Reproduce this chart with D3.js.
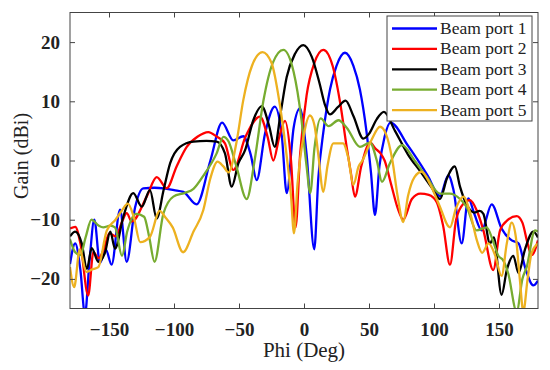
<!DOCTYPE html>
<html><head><meta charset="utf-8">
<script src="https://cdn.jsdelivr.net/npm/d3@7"></script>
<style>body{margin:0;background:#fff} svg{display:block}</style>
</head><body>
<svg id="c" width="550" height="370"></svg>
<script>
const seriesNames = ["Beam port 1","Beam port 2","Beam port 3","Beam port 4","Beam port 5"];
const xTicks = [-150,-100,-50,0,50,100,150];
const yTicks = [-20,-10,0,10,20];

const port1 = [[-180,-17.5],[-176,-14],[-172,-18.5],[-168.5,-26],[-165,-17],[-161.3,-10],[-157,-17.3],[-152.5,-15],[-148,-17.6],[-141.5,-8.3],[-136.4,-17.1],[-130,-8],[-123.6,-4.7],[-115,-4.6],[-108,-4.7],[-100,-5],[-92.8,-5.3],[-82.6,-7.4],[-72,0],[-63,6.4],[-54.4,3.4],[-46.7,4.1],[-41,1],[-36.4,-3.3],[-30,4.5],[-22.5,9.1],[-17,4],[-13.3,-5.5],[-8,5.5],[-3.1,8.8],[2,1],[7.9,-15],[11,-3],[15,5],[20,12],[25,16],[31.5,18.2],[38,16],[43,12],[48,5],[51.5,-2],[54.6,-9.2],[58,-1],[62,4],[66.5,6.4],[80,2.5],[95,-2.5],[104.6,-6],[111,-2.5],[115,-5],[121.3,-14],[126.4,-6.4],[131,-9],[136.7,-11.8],[144.4,-7.4],[152,-11.5],[159.8,-13.5],[165,-14],[170,-18],[176.4,-21.1],[180,-20.3]];
const port2 = [[-180,-11.5],[-176,-11.2],[-172,-14],[-166,-22.8],[-162,-15.5],[-158,-16.5],[-154,-15],[-149.8,-12.3],[-145,-12.8],[-139.5,-10.1],[-136.4,-8.9],[-132.5,-10.3],[-121,-6.1],[-113.3,-2.8],[-105.6,-4.7],[-98,-1],[-90.2,2.3],[-82,4],[-73.6,4.8],[-67,4],[-60.8,2.9],[-54.4,-1.6],[-45,4],[-33.8,7.4],[-28,4],[-23.6,0],[-19,4],[-14.6,6.7],[-10,0],[-6.5,-11.3],[-3,1],[2,11],[8,16.5],[14.9,18.7],[22,16],[28,9.5],[33,2],[36,-2],[39.2,-6.1],[44,-1],[51,3],[55,2],[58.5,1.3],[62,0],[67,-4],[72,-8],[76.4,-10],[83,-6.5],[89.5,-5.6],[96,-5.8],[102,-7],[107,-11],[112.3,-17.6],[117,-10],[122.6,-7.3],[127.7,-6.7],[133,-8.5],[138,-11.8],[145.6,-18.5],[150.8,-11.8],[157,-10],[163.6,-9.4],[168,-10.5],[172,-14],[175.1,-16],[180,-13.5]];
const port3 = [[-180,-12.8],[-176,-12],[-171,-14],[-167,-18.3],[-163.3,-14.8],[-158.2,-17.1],[-153,-15.5],[-149,-12],[-145.4,-14.9],[-139,-9.5],[-131.3,-5.5],[-124.8,-7.8],[-118.5,-5],[-113.3,-9.8],[-108,-5],[-103,-0.5],[-95.4,2.3],[-85,3.2],[-75,3.3],[-67.2,3.2],[-60.8,1.2],[-55.6,-4.4],[-50.5,-0.5],[-45.4,1.7],[-39,6.8],[-32.5,9.2],[-27,6],[-22.5,2.3],[-18,8],[-13.3,14.1],[-7,18],[-0.5,19.5],[6,17.5],[12,13],[16,9.5],[20,7.8],[26,9],[32,10.1],[38,7.5],[45.6,3.7],[50,4.5],[56,7],[61.5,8.2],[70,5],[80,1],[90,-2],[98,-4.5],[104.6,-6.5],[110,-3],[116,-1],[120,-4.4],[125,-7.4],[131,-8.8],[135,-8.5],[138,-9],[143,-14],[146,-13],[152,-22.7],[156,-18.5],[161,-16.1],[165,-19],[170,-15],[176.4,-12],[180,-13]];
const port4 = [[-180,-13.3],[-176,-15.5],[-172,-16],[-168,-13],[-163.5,-10],[-158,-11],[-154.4,-11.3],[-149,-11],[-145.4,-11.3],[-140,-16.1],[-136,-12],[-129,-9],[-123,-9.5],[-119,-13],[-115,-17.1],[-108.2,-9],[-100.5,-6.1],[-92,-5.5],[-85,-4.8],[-77.5,-2.6],[-67.2,1.2],[-62,4],[-58,3.2],[-52,-1],[-44.1,-6.5],[-38,0],[-31.3,10],[-24,16.5],[-15.9,18.7],[-8,15],[-2,7],[2,-1],[4.8,-5.5],[8,2],[12.8,7.1],[19,5.8],[26.5,6.8],[33,5.5],[43,2.3],[50.8,3],[56,0],[60,-3.6],[66,-0.5],[75.5,2.6],[85,0],[95,-3],[104.6,-5.6],[112,-5.6],[120,-6.5],[125,-7.8],[132.8,-11.8],[140.5,-11.3],[146,-14],[149.5,-16.1],[153,-16.8],[157,-19],[163.6,-25.5],[168,-20],[171.3,-18],[177.7,-11.8],[180,-12]];
const port5 = [[-180,-18],[-176.8,-21.4],[-172.5,-15],[-167.5,-18.8],[-163,-18.4],[-158.2,-18],[-151.8,-11.9],[-145,-10],[-140.2,-8.5],[-135.5,-7.3],[-131,-9.5],[-126,-13.8],[-118.5,-12.9],[-111,-8.5],[-107,-9.5],[-101,-11.3],[-93,-15.5],[-85,-12],[-77.5,-8.4],[-72,-3],[-66.5,-0.2],[-62,-1],[-58,-2],[-52,3],[-46.7,10.2],[-40,16],[-32,18.3],[-25,16.5],[-19,10],[-14,2],[-10,-6],[-7.7,-12.3],[-5,-4],[0,4.5],[4.6,7.6],[8,6],[11,1],[14.9,-5.3],[18,-1],[22.6,2.9],[30,2.9],[34,0.5],[38,-4.1],[42,-1],[45,0],[52,3.5],[58.5,5.7],[63,4.5],[68,0],[72,-6],[76.4,-10.4],[80,-6],[85,-2.8],[90.5,-1.9],[97,-4],[104,-7.5],[112.3,-11.3],[117,-8],[122.6,-6.1],[128,-9],[133,-13.5],[137,-15.6],[142,-14],[147,-16],[152,-19.5],[156,-14],[159.8,-10.5],[163,-13],[166,-20],[168.7,-25.5],[172,-20],[175.1,-15.6],[180,-14]];

const colors = ["#0000ff","#ff0000","#000000","#77ac30","#edb120"];
const allSeries = [port1, port2, port3, port4, port5];

const L = 70, R = 538, T = 12.5, B = 308.5;
const svg = d3.select("#c");
const x = d3.scaleLinear().domain([-180,180]).range([L,R]);
const y = d3.scaleLinear().domain([-25,25]).range([B,T]);
const axisColor = "#444";
const serif = "'Liberation Serif','Times New Roman',serif";

svg.append("defs").append("clipPath").attr("id","clip")
  .append("rect").attr("x",L).attr("y",T).attr("width",R-L).attr("height",B-T);

const line = d3.line().x(d=>x(d[0])).y(d=>y(d[1])).curve(d3.curveMonotoneX);
const g = svg.append("g").attr("clip-path","url(#clip)");
allSeries.forEach((s,i)=>{
  g.append("path").datum(s).attr("d",line).attr("fill","none")
   .attr("stroke",colors[i]).attr("stroke-width",2.3).attr("stroke-linejoin","round");
});

// axes (ticks inward, box)
const fmt = d => d < 0 ? "\u2212" + Math.abs(d) : String(d);
const xb = svg.append("g").attr("transform",`translate(0,${B})`)
  .call(d3.axisBottom(x).tickValues(xTicks).tickSize(-5).tickPadding(14).tickFormat(fmt));
const xt = svg.append("g").attr("transform",`translate(0,${T})`)
  .call(d3.axisTop(x).tickValues(xTicks).tickSize(-5).tickFormat(""));
const yl = svg.append("g").attr("transform",`translate(${L},0)`)
  .call(d3.axisLeft(y).tickValues(yTicks).tickSize(-5).tickPadding(10).tickFormat(fmt));
const yr = svg.append("g").attr("transform",`translate(${R},0)`)
  .call(d3.axisRight(y).tickValues(yTicks).tickSize(-5).tickFormat(""));
[xb,xt,yl,yr].forEach(a=>{
  a.select(".domain").remove();
  a.selectAll(".tick line").attr("stroke",axisColor);
  a.selectAll("text").attr("fill","#222").style("font-family",serif)
   .style("font-size","19px").style("font-weight","bold");
});
svg.append("rect").attr("x",L).attr("y",T).attr("width",R-L).attr("height",B-T)
  .attr("fill","none").attr("stroke",axisColor).attr("stroke-width",1);

// axis labels
svg.append("text").attr("x",(L+R)/2).attr("y",357).attr("text-anchor","middle")
  .style("font-family",serif).style("font-size","21px").attr("fill","#222").text("Phi (Deg)");
svg.append("text").attr("transform","translate(28,156) rotate(-90)").attr("text-anchor","middle")
  .style("font-family",serif).style("font-size","20px").attr("fill","#222").text("Gain (dBi)");

// legend
const lg = svg.append("g");
lg.append("rect").attr("x",387).attr("y",16).attr("width",145).attr("height",105)
  .attr("fill","#fff").attr("stroke",axisColor).attr("stroke-width",1);
seriesNames.forEach((n,i)=>{
  const yy = 28.5 + i*20.4;
  lg.append("line").attr("x1",392).attr("x2",437).attr("y1",yy).attr("y2",yy)
    .attr("stroke",colors[i]).attr("stroke-width",2.3);
  lg.append("text").attr("x",440).attr("y",yy+5.5).style("font-family",serif)
    .style("font-size","17.5px").attr("fill","#222").text(n);
});
</script>
</body></html>
